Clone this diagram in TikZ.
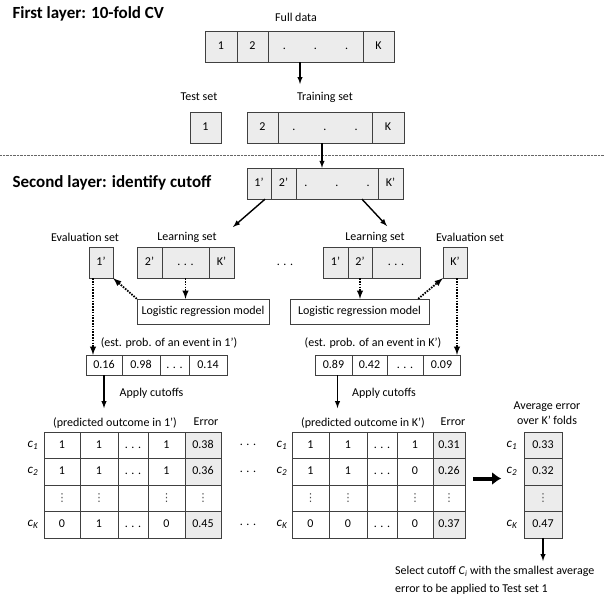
\documentclass[tikz,border=0pt]{standalone}
\usepackage{fontspec}
\setmainfont{Carlito}
\newfontfamily\symfont{DejaVu Sans}
\usetikzlibrary{arrows.meta}
\begin{document}
\begin{tikzpicture}[>=latex, x=1pt, y=-1pt,
  every node/.style={font=\fontsize{12}{14}\selectfont},
  ttl/.style={font=\fontsize{17}{20}\bfseries\selectfont, anchor=west},
  cvar/.style={font=\fontsize{13}{15}\itshape\selectfont},
  vdot/.style={font=\fontsize{11}{13}\symfont\selectfont, text=black!70},
  cell/.style={draw=black!75, fill=gray!15, minimum height=31pt, inner sep=0pt, text height=8.5pt, text depth=2.5pt},
  wcell/.style={cell, fill=white},
  tcell/.style={draw=black!75, fill=white, minimum height=26.5pt, inner sep=0pt, text height=8.5pt, text depth=2.5pt},
  gcell/.style={tcell, fill=gray!15},
  arr/.style={->, line width=1.4pt},
  dotarr/.style={->, line width=1.8pt, dash pattern=on 1.6pt off 1.2pt}]
\useasboundingbox (0,0) rectangle (604,600);
% first layer
\node[ttl] (title1) at (9,14) {First layer: 10-fold CV};
\node (fulllbl) at (296,17) {Full data};
\node[cell, minimum width=32pt] (f1) at (221,46.5) {1};
\node[cell, minimum width=31pt] (f2) at (252.5,46.5) {2};
\node[cell, minimum width=95pt] (fd) at (315.5,46.5) {.\hspace{28pt}.\hspace{28pt}.};
\node[cell, minimum width=31pt] (fK) at (378.5,46.5) {K};
\coordinate (split) at (300,84);
\draw[arr] (fd.south -| split) -- (split);
\node (testlbl) at (199,97) {Test set};
\node (trainlbl) at (325,97) {Training set};
\node[cell, minimum width=31pt] (t1) at (205.5,127.5) {1};
\node[cell, minimum width=31pt] (tr2) at (262.5,127.5) {2};
\node[cell, minimum width=94pt] (trd) at (325,127.5) {.\hspace{28pt}.\hspace{28pt}.};
\node[cell, minimum width=32pt] (trK) at (388,127.5) {K};
\draw[densely dotted, black!60] (0,155) -- (604,155);
% second layer
\node[ttl] (title2) at (9,183) {Second layer: identify cutoff};
\node[cell, minimum width=24pt] (s1) at (259,183.5) {1'};
\node[cell, minimum width=25pt] (s2) at (283.5,183.5) {2'};
\node[cell, minimum width=82pt] (sd) at (337,183.5) {.\hspace{28pt}.\hspace{28pt}.};
\node[cell, minimum width=25pt] (sK) at (390.5,183.5) {K'};
\draw[arr] ([xshift=-3pt]trd.south) -- ([xshift=-15pt]sd.north);
\coordinate (ltip) at (233,227);
\coordinate (rtip) at (387,226);
\draw[arr] ([xshift=6pt]s1.south) -- (ltip);
\draw[arr] ([xshift=25pt]sd.south) -- (rtip);
% left fold
\node (evlblA) at (85,237) {Evaluation set};
\node (lnlblA) at (187,237) {Learning set};
\node[cell, minimum width=24pt] (e1) at (101,262.5) {1'};
\node[cell, minimum width=25pt] (l2) at (149.5,262.5) {2'};
\node[cell, minimum width=47pt] (ld) at (185.5,262.5) {. . .};
\node[cell, minimum width=25pt] (lK) at (221.5,262.5) {K'};
\node (middots) at (285,265) {. . .};
% right fold
\node (lnlblB) at (375,237) {Learning set};
\node (evlblB) at (470,237) {Evaluation set};
\node[cell, minimum width=25pt] (r1) at (335.5,262.5) {1'};
\node[cell, minimum width=24pt] (r2) at (360,262.5) {2'};
\node[cell, minimum width=48pt] (rd) at (396,262.5) {. . .};
\node[cell, minimum width=24pt] (eK) at (455,262.5) {K'};
\node[wcell, minimum width=132pt, minimum height=25pt] (lrA) at (203,311.5) {Logistic regression model};
\node[wcell, minimum width=139pt, minimum height=25pt] (lrB) at (359.5,311.5) {Logistic regression model};
\draw[dotarr] (ld.south) -- (ld.south |- lrA.north);
\draw[dotarr] (r2.south) -- (r2.south |- lrB.north);
\draw[dotarr] (lrA.north west) -- (e1.south east);
\draw[dotarr] ([xshift=-11pt]lrB.north east) -- (eK.south west);
% estimated probabilities
\node (estA) at (169,343) {(est. prob. of an event in 1')};
\node (estB) at (373,343) {(est. prob. of an event in K')};
\node[wcell, minimum width=36pt, minimum height=20pt] (pa1) at (104,365) {0.16};
\node[wcell, minimum width=38pt, minimum height=20pt] (pa2) at (141,365) {0.98};
\node[wcell, minimum width=29pt, minimum height=20pt] (pa3) at (174.5,365) {. . .};
\node[wcell, minimum width=38pt, minimum height=20pt] (pa4) at (208,365) {0.14};
\node[wcell, minimum width=37pt, minimum height=20pt] (pb1) at (333.5,365) {0.89};
\node[wcell, minimum width=35pt, minimum height=20pt] (pb2) at (369.5,365) {0.42};
\node[wcell, minimum width=36pt, minimum height=20pt] (pb3) at (405,365) {. . .};
\node[wcell, minimum width=37pt, minimum height=20pt] (pb4) at (441.5,365) {0.09};
\draw[dotarr] ([xshift=-8pt]e1.south) -- ([xshift=-8pt]e1.south |- pa1.north);
\draw[dotarr] ([xshift=2pt]eK.south) -- ([xshift=2pt]eK.south |- pb4.north);
% apply cutoffs
\node (applyA) at (151.5,393) {Apply cutoffs};
\node (applyB) at (384,393) {Apply cutoffs};
\node (predA) at (115,423) {(predicted outcome in 1')};
\node (errA) at (206,422) {Error};
\node (predB) at (363,423) {(predicted outcome in K')};
\node (errB) at (453,422) {Error};
\draw[arr, shorten >=6pt] (pa1.south) -- (pa1.south |- predA.north);
\draw[arr, shorten >=6pt] ([xshift=4pt]pb1.south) -- ([xshift=4pt]pb1.south |- predB.north);
% left table
\node[cvar] (cA1) at (33,445) {c\textsubscript{1}};
\node[cvar] (cA2) at (33,471.5) {c\textsubscript{2}};
\node[cvar] (cA4) at (33,524.5) {c\textsubscript{K}};
\node[tcell, minimum width=36pt] (a11) at (62,445) {1};
\node[tcell, minimum width=38pt] (a12) at (99,445) {1};
\node[tcell, minimum width=30pt] (a13) at (133,445) {. . .};
\node[tcell, minimum width=37pt] (a14) at (166.5,445) {1};
\node[gcell, minimum width=36pt] (a15) at (203,445) {0.38};
\node[tcell, minimum width=36pt] (a21) at (62,471.5) {1};
\node[tcell, minimum width=38pt] (a22) at (99,471.5) {1};
\node[tcell, minimum width=30pt] (a23) at (133,471.5) {. . .};
\node[tcell, minimum width=37pt] (a24) at (166.5,471.5) {1};
\node[gcell, minimum width=36pt] (a25) at (203,471.5) {0.36};
\node[tcell, vdot, minimum width=36pt] (a31) at (62,498) {⋮};
\node[tcell, vdot, minimum width=38pt] (a32) at (99,498) {⋮};
\node[tcell, minimum width=30pt] (a33) at (133,498) {};
\node[tcell, vdot, minimum width=37pt] (a34) at (166.5,498) {⋮};
\node[tcell, vdot, minimum width=36pt] (a35) at (203,498) {⋮};
\node[tcell, minimum width=36pt] (a41) at (62,524.5) {0};
\node[tcell, minimum width=38pt] (a42) at (99,524.5) {1};
\node[tcell, minimum width=30pt] (a43) at (133,524.5) {. . .};
\node[tcell, minimum width=37pt] (a44) at (166.5,524.5) {0};
\node[gcell, minimum width=36pt] (a45) at (203,524.5) {0.45};
\node (bt1) at (248,445) {. . .};
\node (bt2) at (248,471.5) {. . .};
\node (bt4) at (248,524.5) {. . .};
% right table
\node[cvar] (cB1) at (282,445) {c\textsubscript{1}};
\node[cvar] (cB2) at (282,471.5) {c\textsubscript{2}};
\node[cvar] (cB4) at (282,524.5) {c\textsubscript{K}};
\node[tcell, minimum width=37pt] (b11) at (310.5,445) {1};
\node[tcell, minimum width=38pt] (b12) at (348,445) {1};
\node[tcell, minimum width=30pt] (b13) at (382,445) {. . .};
\node[tcell, minimum width=36pt] (b14) at (415,445) {1};
\node[gcell, minimum width=32pt] (b15) at (449,445) {0.31};
\node[tcell, minimum width=37pt] (b21) at (310.5,471.5) {1};
\node[tcell, minimum width=38pt] (b22) at (348,471.5) {1};
\node[tcell, minimum width=30pt] (b23) at (382,471.5) {. . .};
\node[tcell, minimum width=36pt] (b24) at (415,471.5) {0};
\node[gcell, minimum width=32pt] (b25) at (449,471.5) {0.26};
\node[tcell, vdot, minimum width=37pt] (b31) at (310.5,498) {⋮};
\node[tcell, vdot, minimum width=38pt] (b32) at (348,498) {⋮};
\node[tcell, minimum width=30pt] (b33) at (382,498) {};
\node[tcell, vdot, minimum width=36pt] (b34) at (415,498) {⋮};
\node[tcell, vdot, minimum width=32pt] (b35) at (449,498) {⋮};
\node[tcell, minimum width=37pt] (b41) at (310.5,524.5) {0};
\node[tcell, minimum width=38pt] (b42) at (348,524.5) {0};
\node[tcell, minimum width=30pt] (b43) at (382,524.5) {. . .};
\node[tcell, minimum width=36pt] (b44) at (415,524.5) {0};
\node[gcell, minimum width=32pt] (b45) at (449,524.5) {0.37};
% average error
\node[align=center, font=\fontsize{12}{15}\selectfont] (avlbl) at (547,413.5) {Average error\\over K' folds};
\node[cvar] (cV1) at (512,445) {c\textsubscript{1}};
\node[cvar] (cV2) at (512,471.5) {c\textsubscript{2}};
\node[cvar] (cV4) at (512,524.5) {c\textsubscript{K}};
\node[gcell, minimum width=38pt] (v1) at (543,445) {0.33};
\node[gcell, minimum width=38pt] (v2) at (543,471.5) {0.32};
\node[gcell, vdot, minimum width=38pt] (v3) at (543,498) {⋮};
\node[gcell, minimum width=38pt] (v4) at (543,524.5) {0.47};
\draw[-{Latex[length=9pt,width=13pt]}, line width=4pt, shorten <=8pt, shorten >=2pt] ([yshift=-7pt]b25.east) -- ([yshift=-7pt]cV2.west);
\node[anchor=north west, align=left, inner sep=0pt, font=\fontsize{12}{18}\selectfont] (sel) at (395,566)
  {Select cutoff \textit{C}\textsubscript{\textit{i}} with the smallest average\\error to be applied to Test set 1};
\draw[arr, shorten >=5pt] (v4.south) -- (v4.south |- sel.north);
\end{tikzpicture}
\end{document}
